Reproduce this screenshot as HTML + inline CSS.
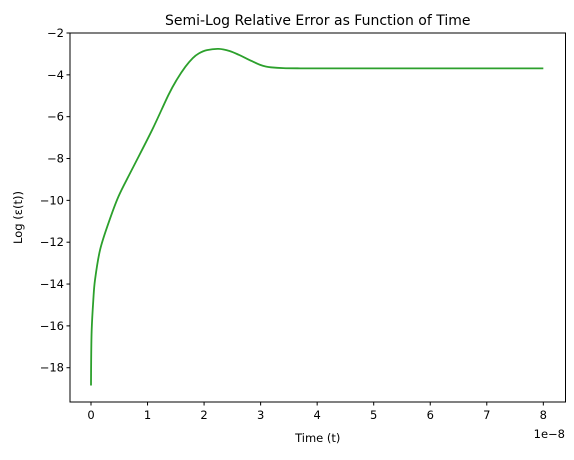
<!DOCTYPE html>
<html><head><meta charset="utf-8"><style>
body{margin:0;background:#fff;}
svg text{font-family:"DejaVu Sans","Liberation Sans",sans-serif;fill:#000;}
</style></head><body>
<svg width="574" height="455" xmlns="http://www.w3.org/2000/svg">
<rect width="574" height="455" fill="#fff"/>
<g id="plot"></g>
</svg>
<script>
const tValues=[0,0.003,0.012,0.04,0.071,0.16,0.31,0.485,0.72,1.08,1.37,1.52,1.67,1.8,1.905,2.05,2.26,2.45,2.62,2.75,2.85,3.0,3.09,3.18,3.4,3.7,4,5,6,7,8];
const errValues=[-18.85,-17.6,-16.2,-14.8,-13.8,-12.37,-11.08,-9.82,-8.55,-6.64,-4.96,-4.22,-3.61,-3.2,-2.98,-2.82,-2.76,-2.86,-3.05,-3.22,-3.35,-3.53,-3.6,-3.64,-3.68,-3.69,-3.69,-3.69,-3.69,-3.69,-3.69];
const xTicks=[0,1,2,3,4,5,6,7,8];
const yTicks=[-2,-4,-6,-8,-10,-12,-14,-16,-18];
const L=70,R=565.5,T=33,B=402;
const xs=t=>91+t*56.54;
const ys=v=>33+(-2-v)*20.92;
const g=document.getElementById('plot');
const NS='http://www.w3.org/2000/svg';
function mk(tag,attrs,parent){const e=document.createElementNS(NS,tag);for(const k in attrs)e.setAttribute(k,attrs[k]);(parent||g).appendChild(e);return e;}
const P=tValues.map((t,i)=>[xs(t),ys(errValues[i])]);
let d='M'+P[0][0].toFixed(2)+','+P[0][1].toFixed(2);
for(let i=0;i<P.length-1;i++){const p0=P[Math.max(0,i-1)],p1=P[i],p2=P[i+1],p3=P[Math.min(P.length-1,i+2)];
const c1=[p1[0]+(p2[0]-p0[0])/6,p1[1]+(p2[1]-p0[1])/6],c2=[p2[0]-(p3[0]-p1[0])/6,p2[1]-(p3[1]-p1[1])/6];
d+=' C'+c1.map(v=>v.toFixed(2))+' '+c2.map(v=>v.toFixed(2))+' '+p2.map(v=>v.toFixed(2));}
const line=mk('path',{d:d,fill:'none',stroke:'#2ca02c','stroke-width':1.8,'stroke-linejoin':'round'});


const frame=mk('rect',{x:L,y:T,width:R-L,height:B-T,fill:'none',stroke:'#000','stroke-width':1});


xTicks.forEach(v=>{const x=xs(v);mk('line',{x1:x,x2:x,y1:B,y2:B+3.5,stroke:'#000'});
const t=mk('text',{x:x,y:B+17,'text-anchor':'middle','font-size':'11.5'});t.textContent=v;

});
yTicks.forEach(v=>{const y=ys(v);mk('line',{x1:L-3.5,x2:L,y1:y,y2:y,stroke:'#000'});
const t=mk('text',{x:L-6,y:y+4,'text-anchor':'end','font-size':'11.5'});t.textContent='\u2212'+Math.abs(v);

});
function txt(s,a,name){const t=mk('text',a);t.textContent=s;return t;}
txt('1e\u22128',{x:565,y:438,'text-anchor':'end','font-size':'11.5'},'x-offset-label');
txt('Time (t)',{x:(L+R)/2,y:442,'text-anchor':'middle','font-size':'11.5'},'x-axis-title');
txt('Log (ε(t))',{x:0,y:0,'text-anchor':'middle','font-size':'11.5',transform:'translate(22,'+((T+B)/2)+') rotate(-90)'},'y-axis-title');
txt('Semi-Log Relative Error as Function of Time',{x:(L+R)/2,y:25,'text-anchor':'middle','font-size':'14'},'chart-title');
</script>
</body></html>
